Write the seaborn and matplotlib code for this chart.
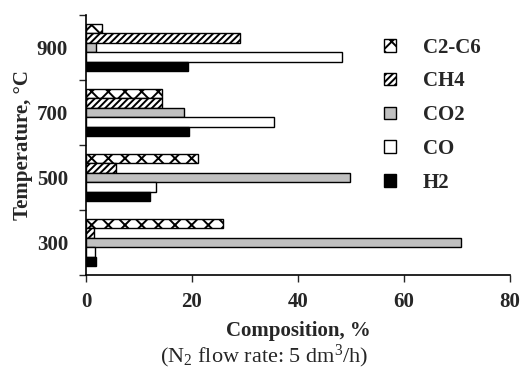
import matplotlib
matplotlib.use("Agg")
import matplotlib.pyplot as plt
import seaborn as sns
import pandas as pd
from matplotlib.patches import Patch
from matplotlib.ticker import FixedLocator

temperatures = ["900", "700", "500", "300"]
species = ["C2-C6", "CH4", "CO2", "CO", "H2"]
c2c6 = [3.0, 14.3, 21.2, 25.9]
ch4 = [29.0, 14.3, 5.6, 1.5]
co2 = [1.9, 18.4, 49.8, 70.8]
co = [48.3, 35.4, 13.2, 1.7]
h2 = [19.2, 19.4, 12.0, 1.8]
xticks = [0, 20, 40, 60, 80]

series = {"C2-C6": c2c6, "CH4": ch4, "CO2": co2, "CO": co, "H2": h2}
rows = []
for sp in species:
    for t, v in zip(temperatures, series[sp]):
        rows.append({"Temperature": t, "Species": sp, "Value": v})
df = pd.DataFrame(rows)

sns.set_style("ticks")
plt.rcParams["font.family"] = ["Liberation Serif", "DejaVu Serif"]
plt.rcParams["mathtext.fontset"] = "custom"
plt.rcParams["mathtext.rm"] = "Liberation Serif"
plt.rcParams["mathtext.it"] = "Liberation Serif:italic"
plt.rcParams["hatch.linewidth"] = 1.4

facecolors = {"C2-C6": "white", "CH4": "white", "CO2": "#c0c0c0", "CO": "white", "H2": "black"}
hatches = {"C2-C6": "xx", "CH4": "/////", "CO2": "", "CO": "", "H2": ""}

FS = 15

fig = plt.figure(figsize=(5.28, 3.71), dpi=100)
ax = fig.add_axes([86 / 528, 1 - 275 / 371, 424 / 528, 260 / 371])

sns.barplot(data=df, x="Value", y="Temperature", hue="Species", order=temperatures,
            hue_order=species, orient="h", width=0.72, ax=ax, legend=False,
            errorbar=None)

for sp, cont in zip(species, ax.containers):
    for p in cont.patches:
        p.set_facecolor(facecolors[sp])
        p.set_edgecolor("black")
        p.set_linewidth(1.0)
        p.set_hatch(hatches[sp])

ax.set_xlim(0, 80)
ax.set_ylim(3.5, -0.5)
ax.set_xticks(xticks)
ax.set_xticklabels([str(x) for x in xticks], fontsize=FS, fontweight="bold")
ax.set_yticks(range(len(temperatures)))
ax.set_yticklabels(temperatures, fontsize=FS, fontweight="bold")
ax.tick_params(axis="y", which="major", length=0, pad=13)
ax.yaxis.set_minor_locator(FixedLocator([-0.5, 0.5, 1.5, 2.5, 3.5]))
ax.tick_params(axis="y", which="minor", length=5, width=1, direction="out")
ax.tick_params(axis="x", length=5, width=1, direction="out", pad=7)
for s in ["top", "right"]:
    ax.spines[s].set_visible(False)
for s in ["left", "bottom"]:
    ax.spines[s].set_linewidth(1.2)
    ax.spines[s].set_color("black")

ax.set_xlabel("Composition, %", fontsize=FS, fontweight="bold", labelpad=7)
ax.set_ylabel("Temperature, \u00b0C", fontsize=FS, fontweight="bold", labelpad=3)

handles = [Patch(facecolor=facecolors[sp], edgecolor="black", hatch=hatches[sp], linewidth=1.0)
           for sp in species]
leg = ax.legend(handles, species, loc="upper left", bbox_to_anchor=(0.659, 0.985),
                frameon=False, handlelength=0.55, handleheight=0.55, labelspacing=0.66,
                handletextpad=1.3, prop={"family": "Liberation Serif", "weight": "bold", "size": FS})

fig.text(0.5, 1.5 / 371, r"(N$_2$ flow rate: 5 dm$^3$/h)", ha="center", va="bottom",
         fontsize=16)

fig.savefig("out.png", dpi=100)
